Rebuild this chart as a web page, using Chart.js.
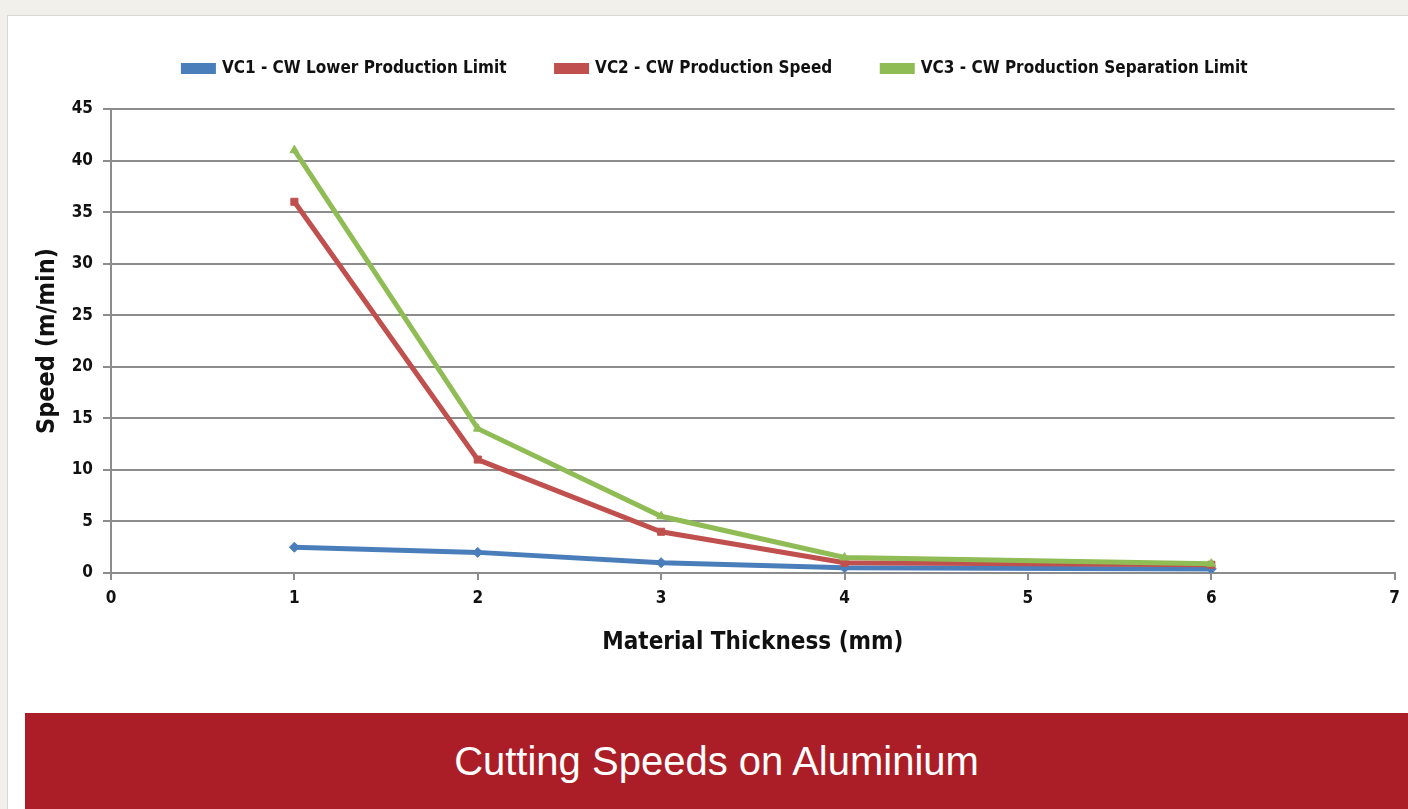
<!DOCTYPE html>
<html>
<head>
<meta charset="utf-8">
<script src="https://cdn.jsdelivr.net/npm/chart.js@4/dist/chart.umd.min.js"></script>
<style>
  html, body { margin: 0; padding: 0; }
  body { width: 1408px; height: 809px; background: #f1f0ea; position: relative; overflow: hidden; }
  #card { position: absolute; left: 7px; top: 15px; right: 0; bottom: 0; background: #fff;
          border-left: 1px solid #d8d8d4; border-top: 1px solid #d8d8d4; }
  #wrap { position: absolute; left: 0; top: 0; width: 1408px; height: 700px; }
  #banner { position: absolute; left: 25px; top: 713px; right: 0; height: 96px; background: #ac1e27;
            color: #fff; font-family: 'Liberation Sans', Arial, sans-serif; font-size: 40px;
            display: flex; align-items: center; justify-content: center; }
</style>
</head>
<body>
<div id="card"></div>
<div id="wrap"><canvas id="myChart"></canvas></div>
<div id="banner"><span>Cutting Speeds on Aluminium</span></div>
<script>
var thickness = [1, 2, 3, 4, 6];
var vc1 = [2.5, 2.0, 1.0, 0.5, 0.4];
var vc2 = [36, 11, 4, 1.0, 0.8];
var vc3 = [41, 14, 5.5, 1.5, 0.9];
var seriesNames = ['VC1 - CW Lower Production Limit', 'VC2 - CW Production Speed', 'VC3 - CW Production Separation Limit'];

var narrow = "'Liberation Sans Narrow', 'DejaVu Sans Condensed', sans-serif";
var gridGrey = '#8c8c8c';

function points(vals) {
  return thickness.map(function (t, i) { return { x: t, y: vals[i] }; });
}

function series(label, vals, color, style, order) {
  return {
    label: label,
    data: points(vals),
    borderColor: color,
    backgroundColor: color,
    borderWidth: 5,
    pointStyle: style,
    pointRadius: 5,
    pointBorderWidth: 1,
    tension: 0,
    order: order
  };
}

// extra room under the legend, and nudge it over the plot area
var legendGap = {
  id: 'legendGap',
  beforeInit: function (chart) {
    var fit = chart.legend.fit;
    chart.legend.fit = function () {
      fit.bind(chart.legend)();
      this.height += 22;
    };
  },
  afterLayout: function (chart) {
    chart.legend.left += 17;
    chart.legend.right += 17;
  }
};

var ctx = document.getElementById('myChart').getContext('2d');
var myChart = new Chart(ctx, {
  type: 'line',
  data: {
    datasets: [
      series(seriesNames[0], vc1, '#4a7ebb', 'rectRot', 3),
      series(seriesNames[1], vc2, '#c0504d', 'rect', 2),
      series(seriesNames[2], vc3, '#8fbc55', 'triangle', 1)
    ]
  },
  plugins: [legendGap],
  options: {
    responsive: true,
    maintainAspectRatio: false,
    animation: false,
    layout: { padding: { left: 0, right: 11, top: 10, bottom: 37 } },
    plugins: {
      tooltip: { enabled: false },
      legend: {
        position: 'top',
        labels: {
          color: '#111',
          font: { family: narrow, size: 17, weight: 'bold' },
          boxWidth: 30,
          boxHeight: 6,
          padding: 50,
          sort: function (a, b) { return a.datasetIndex - b.datasetIndex; }
        }
      }
    },
    scales: {
      x: {
        type: 'linear',
        min: 0,
        max: 7,
        ticks: {
          stepSize: 1,
          color: '#111',
          padding: 8,
          font: { family: narrow, size: 17, weight: 'bold' }
        },
        grid: { drawOnChartArea: false, drawTicks: true, tickLength: 7, color: gridGrey, lineWidth: 2 },
        border: { display: true, color: gridGrey, width: 2 },
        title: {
          display: true,
          text: 'Material Thickness (mm)',
          color: '#111',
          font: { family: narrow, size: 24, weight: 'bold' },
          padding: { top: 0, bottom: 6 }
        },
        afterFit: function (scale) { scale.height = 90; }
      },
      y: {
        min: 0,
        max: 45,
        ticks: {
          stepSize: 5,
          color: '#111',
          padding: 10,
          font: { family: narrow, size: 17, weight: 'bold' }
        },
        grid: { color: gridGrey, lineWidth: 2, tickLength: 8 },
        border: { display: true, color: gridGrey, width: 2 },
        title: {
          display: true,
          text: 'Speed (m/min)',
          color: '#111',
          font: { family: narrow, size: 25, weight: 'bold' },
          padding: { top: 32, bottom: 0 }
        },
        afterFit: function (scale) { scale.width = 111; }
      }
    }
  }
});
</script>
</body>
</html>
